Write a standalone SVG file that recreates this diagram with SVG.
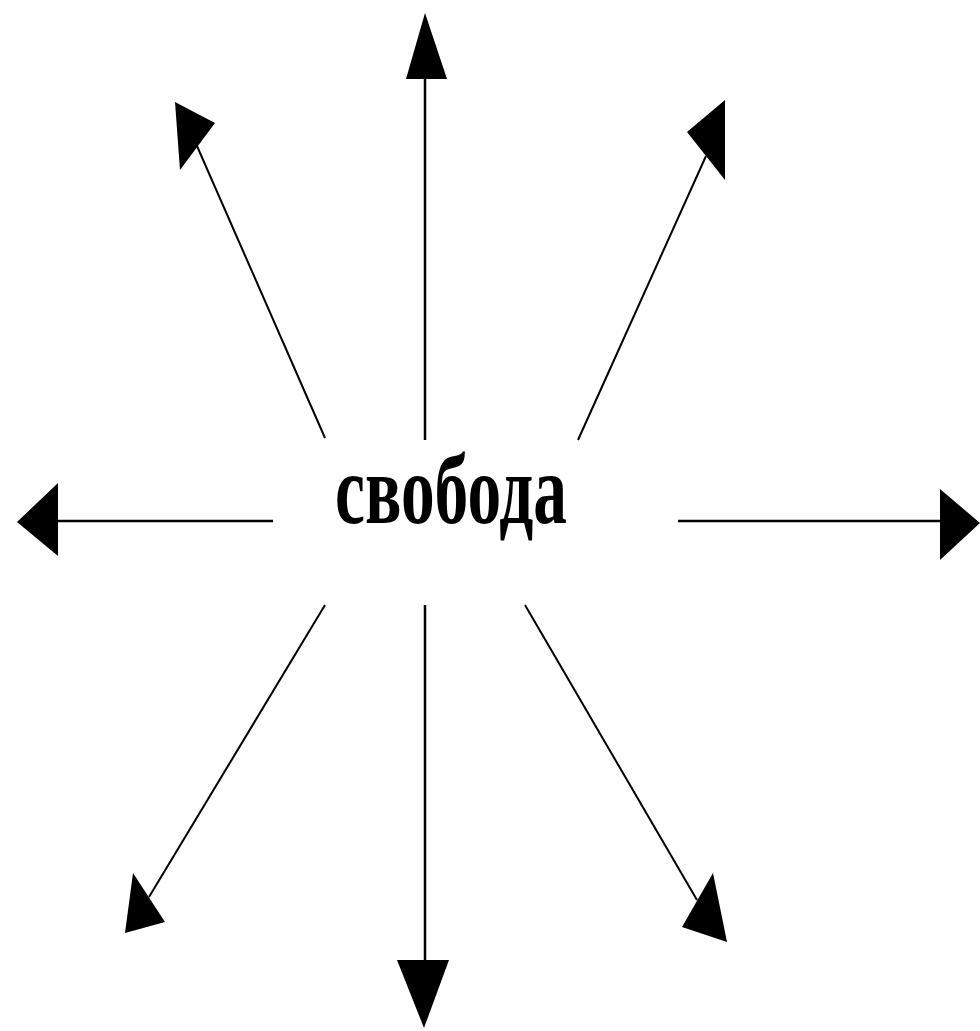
<svg xmlns="http://www.w3.org/2000/svg" width="980" height="1031" viewBox="0 0 980 1031">
<style>
.ln{stroke:#000;stroke-width:2.5;fill:none}
.dg{stroke:#000;stroke-width:2;fill:none}
.ah{fill:#000;stroke:none}
.lbl{font-family:"Liberation Serif","DejaVu Serif",serif;font-weight:bold;font-size:100px;fill:#000}
</style>
<rect width="980" height="1031" fill="#fff"/>
<g id="connectors">
<line class="ln" x1="425" y1="440" x2="425" y2="76"/>
<polygon class="ah" points="425,13 406,79 447,79"/>
<line class="ln" x1="425" y1="605" x2="425" y2="962"/>
<polygon class="ah" points="424,1028 397,960 449,960"/>
<line class="ln" x1="273" y1="521" x2="56" y2="521"/>
<polygon class="ah" points="17,522 58,483 58,556"/>
<line class="ln" x1="678" y1="521" x2="942" y2="521"/>
<polygon class="ah" points="980,523 940,489 940,560"/>
<line class="dg" x1="325" y1="438" x2="197" y2="146"/>
<polygon class="ah" points="175,102 215,123 180,170"/>
<line class="dg" x1="578" y1="440" x2="706" y2="156"/>
<polygon class="ah" points="725,100 687,132 725,180"/>
<line class="dg" x1="325" y1="605" x2="149" y2="897"/>
<polygon class="ah" points="125,933 133,873 165,922"/>
<line class="dg" x1="525" y1="605" x2="697" y2="900"/>
<polygon class="ah" points="727,942 682,927 713,873"/>
</g>
<g id="node-svoboda">
<text class="lbl" x="335" y="523" textLength="232" lengthAdjust="spacingAndGlyphs">свобода</text>
</g>
</svg>
